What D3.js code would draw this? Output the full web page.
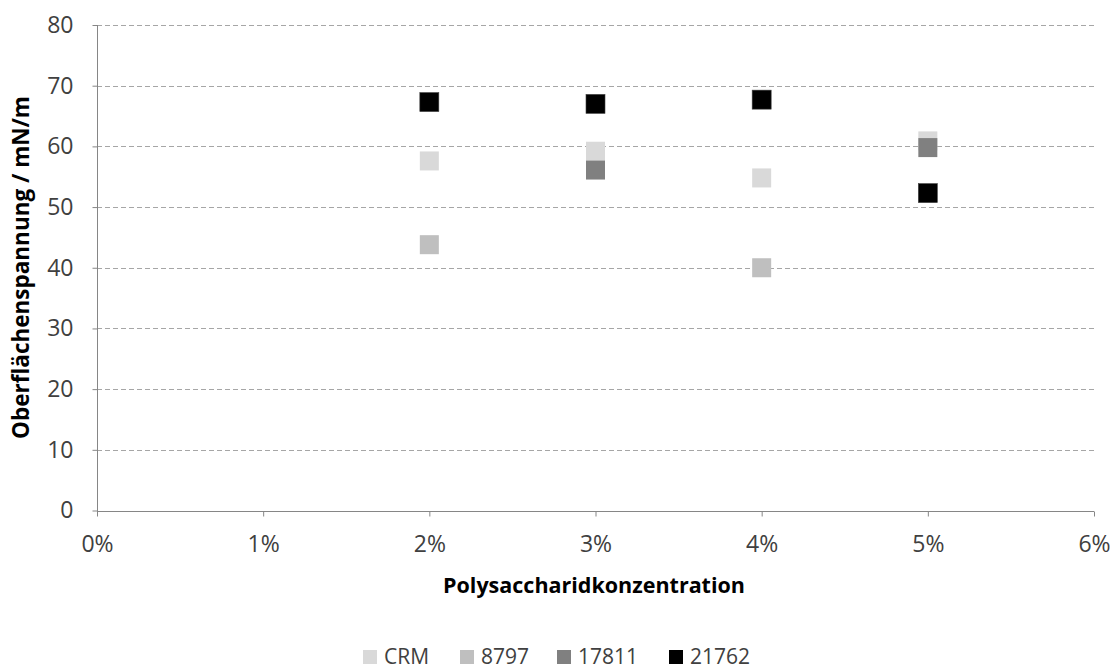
<!DOCTYPE html>
<html><head><meta charset="utf-8">
<script src="https://cdn.jsdelivr.net/npm/d3@7"></script>
<style>body{margin:0;background:#fff}svg{display:block}</style>
</head><body>
<svg id="c" width="1119" height="669"></svg>
<script>
const xValues = [0.02, 0.03, 0.04, 0.05];
const seriesNames = ["CRM", "8797", "17811", "21762"];
const seriesColors = ["#d9d9d9", "#bfbfbf", "#808080", "#000000"];
const crm = [57.6, 59.2, 54.8, 60.9];
const s8797 = [43.8, null, 40.0, null];
const s17811 = [null, 56.1, null, 59.8];
const s21762 = [67.3, 67.0, 67.7, 52.3];
const seriesValues = [crm, s8797, s17811, s21762];
const yTicks = [0, 10, 20, 30, 40, 50, 60, 70, 80];
const xTicks = [0, 0.01, 0.02, 0.03, 0.04, 0.05, 0.06];

const svg = d3.select("#c");
const font = "'Open Sans', sans-serif";
const m = {l: 97, r: 1094, t: 25, b: 510.5};
const x = d3.scaleLinear().domain([0, 0.06]).range([m.l, m.r]);
const y = d3.scaleLinear().domain([0, 80]).range([m.b, m.t]);

// gridlines
svg.append("g").selectAll("line").data(yTicks.filter(d => d > 0)).join("line")
  .attr("x1", m.l).attr("x2", m.r)
  .attr("y1", d => Math.round(y(d)) + 0.5).attr("y2", d => Math.round(y(d)) + 0.5)
  .attr("stroke", "#a6a6a6").attr("stroke-width", 1).attr("stroke-dasharray", "5,3");

// y axis
const ya = svg.append("g").attr("transform", `translate(${m.l + 0.5},0)`)
  .call(d3.axisLeft(y).tickValues(yTicks).tickSize(5).tickPadding(19).tickFormat(d3.format("d")));
ya.select(".domain").attr("stroke", "#868686").attr("d", `M0,${y(80)}V${Math.round(y(0))+0.5}`);
ya.selectAll(".tick line").attr("stroke", "#868686");
ya.selectAll(".tick text").attr("font-family", font).attr("font-size", 23).attr("fill", "#404040");

// x axis
const xa = svg.append("g").attr("transform", `translate(0,${Math.round(m.b) + 0.5})`)
  .call(d3.axisBottom(x).tickValues(xTicks).tickSize(5).tickPadding(19).tickFormat(d3.format(".0%")));
xa.select(".domain").attr("stroke", "#868686").attr("d", `M${m.l},0H${m.r}`);
xa.selectAll(".tick line").attr("stroke", "#868686");
xa.selectAll(".tick text").attr("font-family", font).attr("font-size", 23).attr("fill", "#404040");

// markers
const ms = 19;
seriesValues.forEach((vals, i) => {
  const pts = vals.map((v, j) => ({x: xValues[j], v})).filter(p => p.v !== null);
  svg.append("g").selectAll("rect").data(pts).join("rect")
    .attr("x", p => x(p.x) - ms / 2).attr("y", p => y(p.v) - ms / 2)
    .attr("width", ms).attr("height", ms)
    .attr("fill", seriesColors[i])
    .attr("stroke", i === 3 ? "#404040" : "none").attr("stroke-width", 0.6);
});

// axis titles
svg.append("text").attr("x", 594).attr("y", 593)
  .attr("text-anchor", "middle").attr("font-family", font).attr("font-weight", "bold")
  .attr("font-size", 21.5).attr("fill", "#000").text("Polysaccharidkonzentration");
svg.append("text").attr("transform", `translate(29,267.5) rotate(-90)`)
  .attr("text-anchor", "middle").attr("font-family", font).attr("font-weight", "bold")
  .attr("font-size", 22.5).attr("fill", "#000").text("Oberflächenspannung / mN/m");

// legend
const legX = [363, 460, 557, 669];
const lg = svg.append("g");
seriesNames.forEach((n, i) => {
  lg.append("rect").attr("x", legX[i]).attr("y", 650).attr("width", 14).attr("height", 14)
    .attr("fill", seriesColors[i]);
  lg.append("text").attr("x", legX[i] + 21).attr("y", 664)
    .attr("font-family", font).attr("font-size", 21).attr("fill", "#404040").text(n);
});
</script>
</body></html>
